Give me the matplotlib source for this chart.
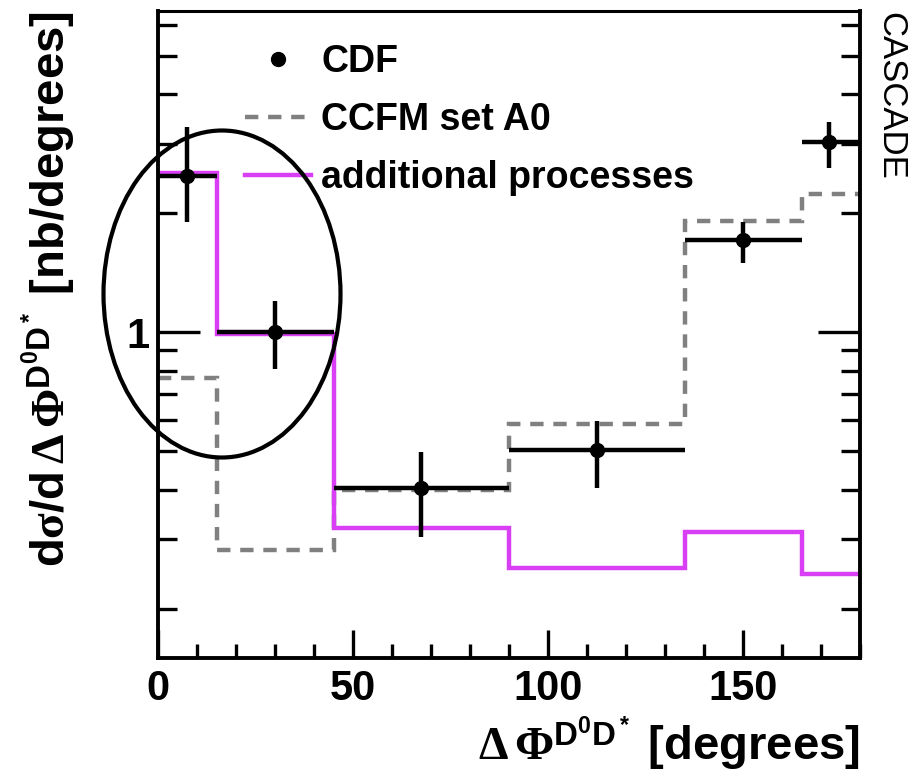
import numpy as np
import matplotlib.pyplot as plt
from matplotlib.patches import Ellipse
from matplotlib.lines import Line2D

# -------------------------------
# Datos
# -------------------------------
bordes = [0, 15, 45, 90, 135, 165, 180]

# CDF (puntos con barras de error)
cdf_x = [7.5, 30, 67.5, 112.5, 150, 172]
cdf_y = [2.48, 1.0, 0.403, 0.505, 1.71, 3.03]
cdf_y_hi = [3.30, 1.20, 0.497, 0.598, 1.90, 3.40]
cdf_y_lo = [1.90, 0.81, 0.303, 0.403, 1.50, 2.60]
cdf_x_lo = [0, 15, 45, 90, 135, 165]
cdf_x_hi = [15, 45, 90, 135, 165, 180]

# CASCADE CCFM set A0
ccfm = [0.765, 0.282, 0.398, 0.585, 1.91, 2.24]
# procesos adicionales
adicional = [2.53, 0.99, 0.319, 0.253, 0.313, 0.245]

plt.rcParams['font.family'] = ['Liberation Sans', 'DejaVu Sans']
plt.rcParams['font.weight'] = 'bold'
plt.rcParams['mathtext.fontset'] = 'custom'
plt.rcParams['mathtext.rm'] = 'Liberation Serif'
plt.rcParams['mathtext.it'] = 'Liberation Serif'
plt.rcParams['mathtext.bf'] = 'Liberation Sans:bold'

gris = '#808080'
magenta = '#d83ff5'

fig = plt.figure(figsize=(9.17, 7.77), dpi=100)
ax = fig.add_axes([158/917, 1-658/777, 702/917, 647/777])

ax.stairs(ccfm, bordes, baseline=None, color=gris, lw=3.2, linestyle=(0, (3, 2.2)))
ax.stairs(adicional, bordes, baseline=None, color=magenta, lw=3.2)

cdf_x = np.array(cdf_x)
cdf_y = np.array(cdf_y)
xerr = [cdf_x - np.array(cdf_x_lo), np.array(cdf_x_hi) - cdf_x]
yerr = [cdf_y - np.array(cdf_y_lo), np.array(cdf_y_hi) - cdf_y]
ax.errorbar(cdf_x, cdf_y, xerr=xerr, yerr=yerr, fmt='o', color='black',
            ms=10, elinewidth=3.2, capsize=0, zorder=5)

ax.set_yscale('log')
ax.set_xlim(0, 180)
ax.set_ylim(0.15, 6.5)

for s in ax.spines.values():
    s.set_linewidth(2.8)
ax.spines['top'].set_linewidth(2.2)

ax.set_xticks([0, 50, 100, 150])
ax.set_xticks(np.arange(0, 181, 10), minor=True)
ax.set_yticks([1])
ax.set_yticklabels(['1'])
ax.set_yticks([0.2, 0.3, 0.4, 0.5, 0.6, 0.7, 0.8, 0.9, 2, 3, 4, 5, 6], minor=True)
ax.yaxis.set_minor_formatter(plt.NullFormatter())
ax.tick_params(axis='both', which='both', direction='in', width=2.4)
ax.tick_params(axis='x', which='major', length=20, labelsize=30, pad=8)
ax.tick_params(axis='x', which='minor', length=10)
ax.tick_params(axis='y', which='major', length=30, labelsize=30, pad=6,
               right=True)
ax.tick_params(axis='y', which='minor', length=14, right=True)

ax.set_xlabel(r'$\Delta\,\Phi^{\mathbf{D^0D^*}}$ [degrees]', fontsize=34,
              fontweight='bold', loc='right', labelpad=4)
ax.set_ylabel(r'd$\sigma$/d$\,\Delta\,\Phi^{\mathbf{D^0D^*}}$ [nb/degrees]',
              fontsize=34, fontweight='bold', loc='top', labelpad=34)

# Leyenda
handles = [
    Line2D([], [], marker='o', ms=10, color='black', linestyle='none'),
    Line2D([], [], color=gris, lw=3.2, linestyle=(0, (3, 2.2))),
    Line2D([], [], color=magenta, lw=3.2),
]
ax.legend(handles, ['CDF', 'CCFM set A0', 'additional processes'],
          loc='upper left', bbox_to_anchor=(0.087, 0.989), frameon=False,
          prop={'size': 27, 'weight': 'bold'}, handlelength=1.75,
          labelspacing=0.58, handletextpad=0.27, borderaxespad=0.3)

fig.text(0.9717, 0.984, 'CASCADE', rotation=-90, fontsize=25,
         fontweight='normal', ha='center', va='top')

# Elipse de anotacion
ell = Ellipse((222/917, 1-294/777), 237/917, 327/777, transform=fig.transFigure,
              fill=False, edgecolor='black', lw=3)
fig.add_artist(ell)

fig.savefig('out.png', dpi=100)
